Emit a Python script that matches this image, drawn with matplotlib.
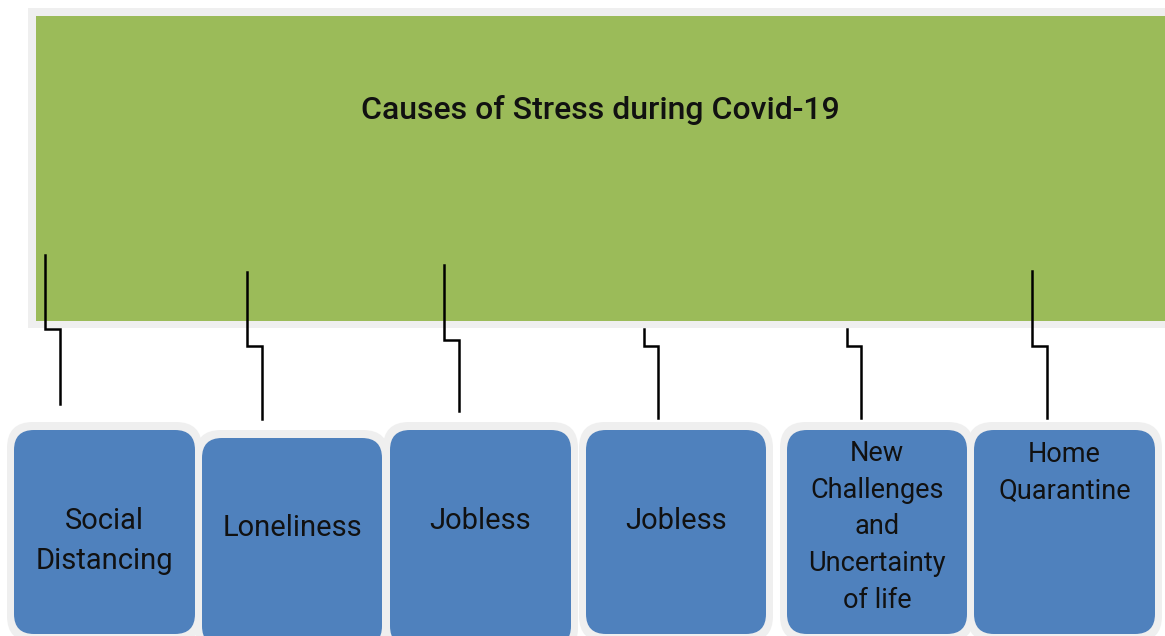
import matplotlib.pyplot as plt
from matplotlib.patches import FancyBboxPatch, Rectangle

title = "Causes of Stress during Covid-19"
causes = ["Social\nDistancing", "Loneliness", "Jobless", "Jobless",
          "New\nChallenges\nand\nUncertainty\nof life", "Home\nQuarantine"]

# box geometry (pixels): left, right, top, bottom of the blue part
box_x0 = [14, 202, 390, 586, 787, 974]
box_x1 = [195, 382, 571, 766, 967, 1155]
box_y0 = [430, 438, 430, 430, 430, 430]
box_y1 = [634, 646, 646, 634, 634, 634]
text_y = [541, 528, 521, 521, 527, 473]
text_ls = [1.53, 1.3, 1.3, 1.3, 1.47, 1.47]
text_fs = [21, 21, 21, 21, 19.5, 19.5]

# connector: upper x, top y, step y, lower x, bottom y
con_xa = [45, 247, 444, 644, 847, 1032]
con_ya = [255, 272, 265, 329, 329, 271]
con_ys = [329, 346, 340, 346, 346, 346]
con_xb = [60, 262, 459, 658, 861, 1047]
con_yb = [404, 419, 411, 418, 418, 418]

green = "#9BBB59"
blue = "#4F81BD"
edge = "#EFEFEF"

plt.rcParams['font.family'] = ['Roboto', 'DejaVu Sans']

fig = plt.figure(figsize=(11.65, 6.36), dpi=100)
ax = fig.add_axes([0, 0, 1, 1])
ax.set_xlim(0, 1165)
ax.set_ylim(636, 0)
ax.axis("off")

ax.add_patch(Rectangle((28, 8), 1150, 320, facecolor=edge, edgecolor="none"))
ax.add_patch(Rectangle((36, 16), 1140, 305, facecolor=green, edgecolor="none"))
ax.text(600, 110, title, ha="center", va="center", fontsize=23,
        fontweight="medium", color="#111111")

for i in range(len(causes)):
    x0, x1, y0, y1 = box_x0[i], box_x1[i], box_y0[i], box_y1[i]
    ax.add_patch(FancyBboxPatch((x0 - 7, y0 - 8), x1 - x0 + 14, y1 - y0 + 16,
                                boxstyle="round,pad=0,rounding_size=26",
                                facecolor=edge, edgecolor="none"))
    ax.add_patch(FancyBboxPatch((x0, y0), x1 - x0, y1 - y0,
                                boxstyle="round,pad=0,rounding_size=20",
                                facecolor=blue, edgecolor="none"))
    ax.text((x0 + x1) / 2, text_y[i], causes[i], ha="center", va="center",
            fontsize=text_fs[i], linespacing=text_ls[i], color="#111111")
    ax.plot([con_xa[i], con_xa[i], con_xb[i], con_xb[i]],
            [con_ya[i], con_ys[i], con_ys[i], con_yb[i]],
            color="black", lw=1.8, solid_joinstyle="miter")

fig.savefig("out.png", dpi=100)
